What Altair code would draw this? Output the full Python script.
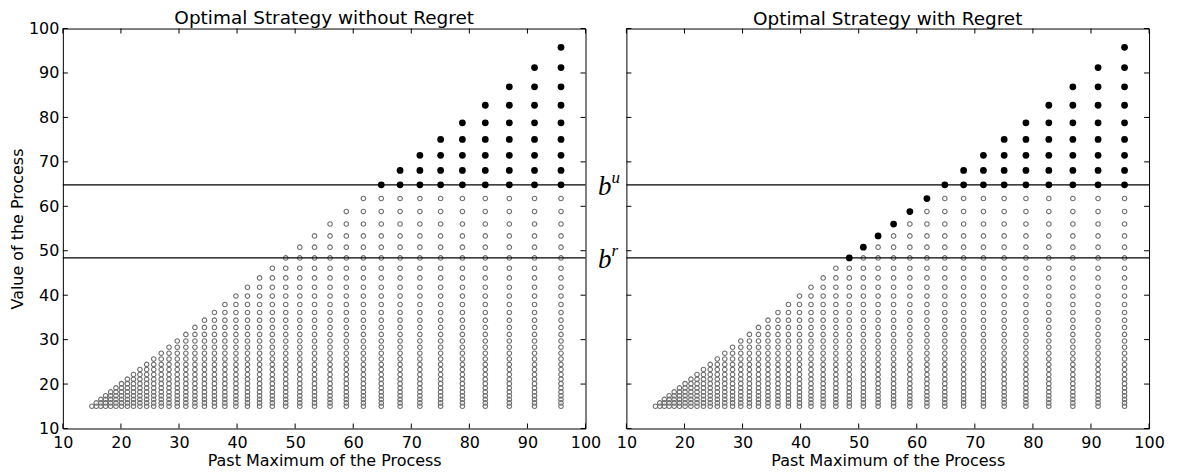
import altair as alt
import pandas as pd

# Grid of process levels (past maximum / current value)
grid = [15.00, 15.75, 16.54, 17.36, 18.23, 19.14, 20.10, 21.11, 22.16, 23.27,
        24.43, 25.65, 26.94, 28.28, 29.70, 31.18, 32.74, 34.38, 36.10, 37.90,
        39.80, 41.79, 43.88, 46.07, 48.38, 50.80, 53.34, 56.01, 58.81, 61.75,
        64.83, 68.07, 71.48, 75.05, 78.80, 82.74, 86.88, 91.22, 95.78]
b_u = 64.83   # upper threshold
b_r = 48.38   # regret threshold
tick_values = [10, 20, 30, 40, 50, 60, 70, 80, 90, 100]
panel_titles = ["Optimal Strategy without Regret", "Optimal Strategy with Regret"]
b_labels = ["u", "r"]
b_values = [b_u, b_r]

W, H = 524, 401
TL = 5  # tick length in px
FONT = "DejaVu Sans"

xs = alt.Scale(domain=[10, 100], nice=False, zero=False)
ys = alt.Scale(domain=[10, 100], nice=False, zero=False)


def build_points(regret):
    rows = []
    for i, x in enumerate(grid):
        for y in grid[: i + 1]:
            stop = (x >= b_u and y >= b_u)
            if regret and x == y and x >= b_r:
                stop = True
            rows.append({"x": x, "y": y, "stop": stop})
    return pd.DataFrame(rows)


def panel(regret, title):
    df = build_points(regret)
    xaxis = alt.Axis(values=tick_values, ticks=False, tickSize=0, domain=False,
                     grid=False, labelPadding=6, labelFlush=False,
                     labelFontSize=16, titleFontSize=16, titleFontWeight="normal",
                     titlePadding=2, labelColor="black", titleColor="black")
    if regret:
        yaxis = alt.Axis(values=tick_values, ticks=False, tickSize=0, domain=False,
                         grid=False, labels=False, title=None)
        ytitle = None
        toff = 0
    else:
        yaxis = alt.Axis(values=tick_values, ticks=False, tickSize=0, domain=False,
                         grid=False, labelPadding=4, labelFlush=False,
                         labelFontSize=16, titleFontSize=16, titleFontWeight="normal",
                         titlePadding=3, labelColor="black", titleColor="black")
        ytitle = "Value of the Process"
        toff = -7

    def X(field):
        return alt.X(field, type="quantitative", scale=xs, axis=xaxis,
                     title="Past Maximum of the Process")

    def Y(field):
        return alt.Y(field, type="quantitative", scale=ys, axis=yaxis, title=ytitle)

    hollow = alt.Chart(df[~df["stop"]]).mark_point(
        shape="circle", filled=False, size=21, color="#6e6e6e",
        strokeWidth=1.1, opacity=1
    ).encode(x=X("x"), y=Y("y"))

    lines = alt.Chart(pd.DataFrame({"b": b_values})).mark_rule(
        color="black", strokeWidth=1.3
    ).encode(y=Y("b"), x=alt.value(0), x2=alt.value(W))

    black = alt.Chart(df[df["stop"]]).mark_circle(
        size=46, color="black", opacity=1
    ).encode(x=X("x"), y=Y("y"))

    tdf = pd.DataFrame({"t": tick_values})
    tb = alt.Chart(tdf).mark_rule(color="black", strokeWidth=1).encode(
        x=X("t"), y=alt.value(H), y2=alt.value(H - TL))
    tt = alt.Chart(tdf).mark_rule(color="black", strokeWidth=1).encode(
        x=X("t"), y=alt.value(0), y2=alt.value(TL))
    tlf = alt.Chart(tdf).mark_rule(color="black", strokeWidth=1).encode(
        y=Y("t"), x=alt.value(0), x2=alt.value(TL))
    trt = alt.Chart(tdf).mark_rule(color="black", strokeWidth=1).encode(
        y=Y("t"), x=alt.value(W - TL), x2=alt.value(W))

    layers = [hollow, lines, black, tb, tt, tlf, trt]

    if regret:
        bdf = pd.DataFrame({"b": b_values, "s": b_labels})
        btxt = alt.Chart(bdf).mark_text(
            text="b", align="right", baseline="alphabetic", dy=10,
            font="Liberation Serif", fontStyle="italic", fontSize=27, color="black"
        ).encode(y=Y("b"), x=alt.value(-15))
        stxt = alt.Chart(bdf).mark_text(
            align="left", baseline="alphabetic", dy=-2,
            font="Liberation Serif", fontStyle="italic", fontSize=17, color="black"
        ).encode(y=Y("b"), x=alt.value(-15), text="s:N")
        layers += [btxt, stxt]

    return alt.layer(*layers).properties(
        width=W, height=H,
        title=alt.TitleParams(title, fontSize=18.5, fontWeight="normal", font=FONT,
                              anchor="middle", offset=toff, frame="group",
                              color="black"),
    )


left = panel(False, panel_titles[0])
right = panel(True, panel_titles[1])

chart = alt.hconcat(left, right, spacing=41, bounds="flush").configure(
    font=FONT, padding={"left": 0, "top": 0, "right": 5, "bottom": 0}
).configure_view(stroke="black", strokeWidth=1).configure_axis(
    labelFont=FONT, titleFont=FONT
)

chart.save("out.html", embed_options={"renderer": "svg", "actions": False})
